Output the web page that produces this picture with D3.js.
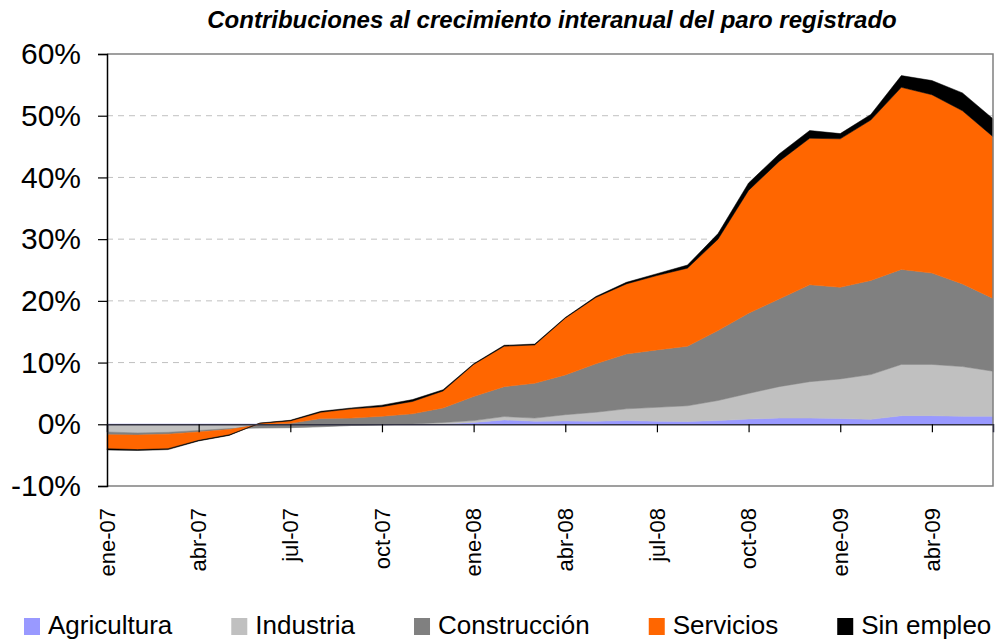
<!DOCTYPE html>
<html>
<head>
<meta charset="utf-8">
<script src="https://cdn.jsdelivr.net/npm/d3@7"></script>
<style>
  body { margin: 0; background: #fff; }
  svg { display: block; font-family: "Liberation Sans", Arial, sans-serif; }
</style>
</head>
<body>
<div id="chart"></div>
<script>
const titleText = "Contribuciones al crecimiento interanual del paro registrado";

const months = [
  "ene-07","feb-07","mar-07","abr-07","may-07","jun-07","jul-07","ago-07","sep-07","oct-07","nov-07","dic-07",
  "ene-08","feb-08","mar-08","abr-08","may-08","jun-08","jul-08","ago-08","sep-08","oct-08","nov-08","dic-08",
  "ene-09","feb-09","mar-09","abr-09","may-09","jun-09"
];

// contributions, percentage points
const agricultura  = [0, 0, 0, 0, 0, 0, 0, 0, 0, 0, 0, 0.05, 0.3, 0.7, 0.5, 0.55, 0.5, 0.6, 0.5, 0.45, 0.6, 0.85, 1.0, 1.0, 0.95, 0.8, 1.4, 1.4, 1.3, 1.3];
const industria    = [-1.25, -1.4, -1.3, -1.0, -0.7, -0.6, -0.55, -0.4, -0.2, -0.1, 0.05, 0.25, 0.3, 0.55, 0.5, 1.0, 1.45, 1.9, 2.25, 2.55, 3.25, 4.15, 5.1, 5.9, 6.4, 7.25, 8.3, 8.3, 8.05, 7.3];
const construccion = [-0.45, -0.35, -0.3, -0.25, -0.15, 0.55, 0.7, 1.35, 1.2, 1.4, 1.65, 2.35, 3.9, 4.85, 5.65, 6.45, 7.85, 8.9, 9.3, 9.65, 11.35, 13.0, 14.2, 15.7, 14.85, 15.25, 15.4, 14.8, 13.4, 11.8];
const servicios    = [-2.25, -2.35, -2.35, -1.35, -0.85, 0.2, 0.4, 1.0, 1.5, 1.55, 2.0, 2.75, 5.2, 6.55, 6.2, 9.2, 10.75, 11.35, 12.05, 12.65, 14.8, 19.9, 22.3, 23.75, 24.05, 26.0, 29.5, 28.9, 28.05, 26.2];
const sinEmpleo    = [-0.2, -0.15, -0.15, -0.1, -0.1, 0.05, 0.1, 0.15, 0.15, 0.25, 0.3, 0.2, 0.1, 0.15, 0.15, 0.1, 0.15, 0.25, 0.3, 0.5, 0.9, 1.2, 1.2, 1.25, 0.85, 0.9, 1.9, 2.3, 2.9, 2.9];

const seriesNames = ["Agricultura", "Industria", "Construcción", "Servicios", "Sin empleo"];
const seriesColors = ["#9999ff", "#c0c0c0", "#808080", "#ff6600", "#000000"];
const yTicks = [-10, 0, 10, 20, 30, 40, 50, 60];
const xTickLabels = months.filter((m, i) => i % 3 === 0);

const w = 1000, h = 644;
const plotLeft = 107, plotRight = 993, plotTop = 54, plotBottom = 486;

const table = months.map((m, i) => ({
  month: m,
  "Agricultura": agricultura[i],
  "Industria": industria[i],
  "Construcción": construccion[i],
  "Servicios": servicios[i],
  "Sin empleo": sinEmpleo[i]
}));

const svg = d3.select("#chart").append("svg")
  .attr("width", w)
  .attr("height", h)
  .style("background", "#fff");

const x = d3.scalePoint().domain(months).range([plotLeft, plotRight]).padding(0);
const y = d3.scaleLinear().domain([-10, 60]).range([plotBottom, plotTop]);

// gridlines (behind the areas)
svg.append("g")
  .selectAll("line")
  .data(yTicks.filter(t => t !== 0 && t !== -10 && t !== 60))
  .enter().append("line")
  .attr("x1", plotLeft).attr("x2", plotRight)
  .attr("y1", d => y(d)).attr("y2", d => y(d))
  .attr("stroke", "#c0c0c0")
  .attr("stroke-width", 1)
  .attr("stroke-dasharray", "6,5");

// stacked areas
const stacked = d3.stack().keys(seriesNames).offset(d3.stackOffsetNone)(table);
const area = d3.area()
  .x(d => x(d.data.month))
  .y0(d => y(d[0]))
  .y1(d => y(d[1]));

svg.append("g")
  .selectAll("path")
  .data(stacked)
  .enter().append("path")
  .attr("d", area)
  .attr("fill", (d, i) => seriesColors[i])
  .attr("stroke", (d, i) => seriesColors[i])
  .attr("stroke-width", 0.5);

// plot border
svg.append("path")
  .attr("d", `M${plotLeft},${plotTop}H${plotRight}V${plotBottom}H${plotLeft}`)
  .attr("fill", "none")
  .attr("stroke", "#808080")
  .attr("stroke-width", 1.5);

// y axis
const yAxis = d3.axisLeft(y)
  .tickValues(yTicks)
  .tickSize(9)
  .tickPadding(17)
  .tickFormat(d => d + "%");
const yg = svg.append("g")
  .attr("transform", `translate(${plotLeft},0)`)
  .call(yAxis);
yg.select(".domain").attr("stroke", "#000").attr("stroke-width", 1.5);
yg.selectAll(".tick line").attr("stroke", "#000").attr("stroke-width", 1.2);
yg.selectAll("text")
  .attr("font-family", "Liberation Sans, Arial, sans-serif")
  .attr("font-size", 30)
  .attr("fill", "#000");

// zero line with tick marks
const xAxis = d3.axisBottom(x)
  .tickValues(xTickLabels)
  .tickSize(8)
  .tickFormat("");
const xg = svg.append("g")
  .attr("transform", `translate(0,${y(0)})`)
  .call(xAxis);
xg.select(".domain").attr("stroke", "#333344").attr("stroke-width", 1.5);
xg.selectAll(".tick line").attr("stroke", "#000").attr("stroke-width", 1.2);

// month labels at the bottom
svg.append("g")
  .selectAll("text")
  .data(xTickLabels)
  .enter().append("text")
  .attr("transform", d => `translate(${x(d)},${plotBottom + 22}) rotate(-90)`)
  .attr("dy", "0.35em")
  .attr("text-anchor", "end")
  .attr("font-size", 22)
  .attr("fill", "#000")
  .text(d => d);

// title
svg.append("text")
  .attr("x", 552)
  .attr("y", 28)
  .attr("text-anchor", "middle")
  .attr("font-size", 24)
  .attr("font-weight", "bold")
  .attr("font-style", "italic")
  .text(titleText);

// legend
const legend = svg.append("g");
let lx = 24;
seriesNames.forEach((name, i) => {
  legend.append("rect")
    .attr("x", lx).attr("y", 618)
    .attr("width", 16).attr("height", 17)
    .attr("fill", seriesColors[i]);
  const t = legend.append("text")
    .attr("x", lx + 24)
    .attr("y", 634)
    .attr("font-size", 26)
    .attr("fill", "#000")
    .text(name);
  lx += 24 + t.node().getComputedTextLength() + 59;
});
</script>
</body>
</html>
